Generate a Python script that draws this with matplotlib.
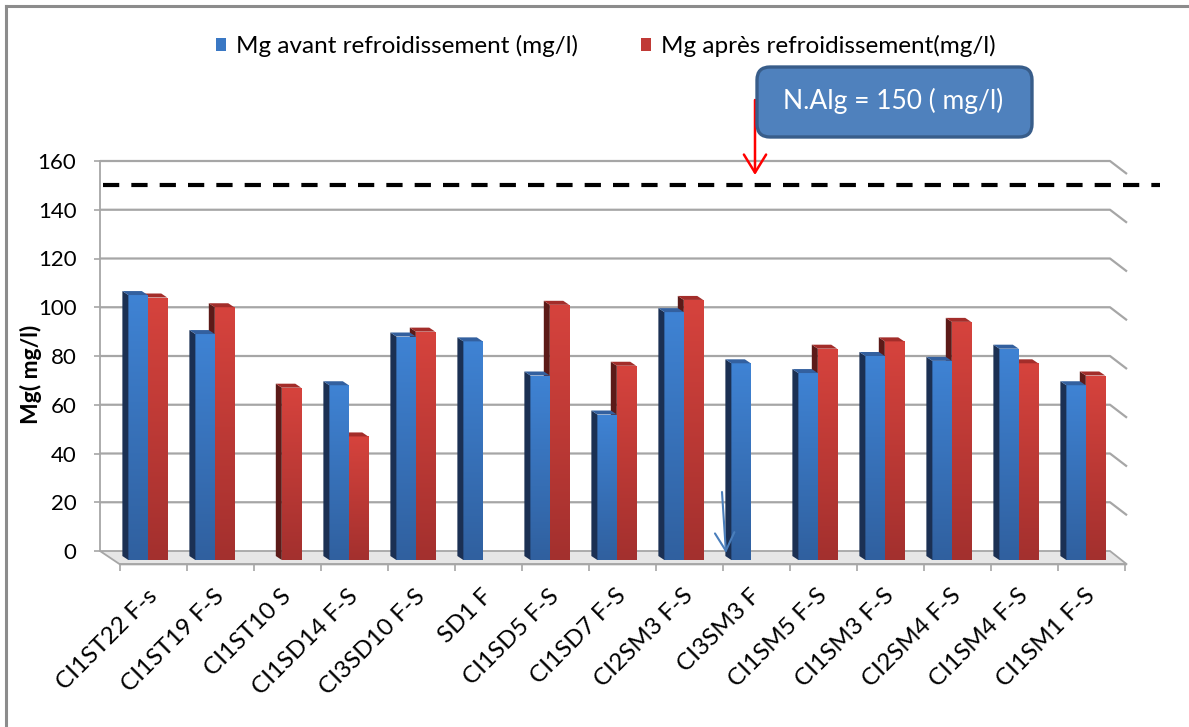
import numpy as np
import matplotlib
matplotlib.use("Agg")
import matplotlib.pyplot as plt
import matplotlib.transforms as mtransforms
from matplotlib.patches import Polygon, Patch, FancyBboxPatch
from matplotlib.lines import Line2D
from matplotlib.colors import LinearSegmentedColormap

# ---- data -------------------------------------------------------------
categories = ["CI1ST22 F-s", "CI1ST19 F-S", "CI1ST10 S", "CI1SD14 F-S", "CI3SD10 F-S",
              "SD1 F", "CI1SD5 F-S", "CI1SD7 F-S", "CI2SM3 F-S", "CI3SM3 F",
              "CI1SM5 F-S", "CI1SM3 F-S", "CI2SM4 F-S", "CI1SM4 F-S", "CI1SM1 F-S"]
mg_avant = [105, 89, np.nan, 68, 88, 86, 72, 56, 98, 77, 73, 80, 78, 83, 68]
mg_apres = [104, 100, 67, 47, 90, np.nan, 101, 76, 103, np.nan, 83, 86, 94, 77, 72]
norme = 150
yticks = [0, 20, 40, 60, 80, 100, 120, 140, 160]
series_labels = ["Mg avant refroidissement (mg/l)", "Mg après refroidissement(mg/l)"]
norme_label = "N.Alg = 150 ( mg/l)"
ylabel = "Mg( mg/l)"

# ---- figure & axes geometry (pixels) ----------------------------------
plt.rcParams['font.family'] = ['Lato', 'DejaVu Sans']
W, H = 1189, 727
fig = plt.figure(figsize=(W / 100, H / 100), dpi=100)
fig.patch.set_facecolor("white")


def fx(px):
    return px / W


def fy(py):
    return 1 - py / H


ax_l, ax_r, ax_t, ax_b = 100, 1130, 150, 580
ax = fig.add_axes([fx(ax_l), fy(ax_b), (ax_r - ax_l) / W, (ax_b - ax_t) / H])
PX_CAT, PX_UNIT = 67.0, 2.4375
X0, Y0 = 120, 551
ax.set_facecolor("none")

# pseudo-3D geometry in data units
wall_left = (100 - X0) / PX_CAT
wall_right = (1110 - X0) / PX_CAT
front_right = (1127 - X0) / PX_CAT
floor_front = -5.5
grid_drop = 13 / PX_UNIT
bar_base = -3.7
bar_w = 0.29
bar_off = 0.125
ddx, ddy = 6 / PX_CAT, 4 / PX_UNIT

grid_col = "#a6a6a6"

# back wall gridlines with their slanted side-wall ends
for k in yticks[1:]:
    ax.plot([wall_left, wall_right, front_right], [k, k, k - grid_drop],
            color=grid_col, lw=1.6, zorder=1, solid_capstyle="butt")

# floor
floor = Polygon([(wall_left, 0), (wall_right, 0), (front_right, floor_front),
                 (0, floor_front)], closed=True, facecolor="#e6e6e6",
                edgecolor=grid_col, lw=1.3, zorder=1.5)
ax.add_patch(floor)

# ---- bars --------------------------------------------------------------
blue_grad = LinearSegmentedColormap.from_list("b", ["#30609f", "#3f83d4"])
red_grad = LinearSegmentedColormap.from_list("r", ["#a3302e", "#d6433d"])
grad = np.linspace(0, 1, 128).reshape(-1, 1)

x = np.arange(len(categories))


def draw_series(values, offset, cmap, side_col, top_col, z):
    lefts = x + offset
    heights = [v - bar_base if np.isfinite(v) else 0 for v in values]
    bars = ax.bar(lefts, heights, bottom=bar_base, width=bar_w, align="edge",
                  color="none", edgecolor="none", zorder=z)
    for left, v, patch in zip(lefts, values, bars):
        if not np.isfinite(v):
            continue
        img = ax.imshow(grad, cmap=cmap, origin="lower", aspect="auto",
                        extent=[left, left + bar_w, bar_base, v], zorder=z)
        img.set_clip_path(patch)
        side = Polygon([(left, bar_base), (left, v), (left - ddx, v + ddy),
                        (left - ddx, bar_base + ddy)], closed=True,
                       facecolor=side_col, edgecolor="none", zorder=z)
        top = Polygon([(left, v), (left + bar_w, v), (left + bar_w - ddx, v + ddy),
                       (left - ddx, v + ddy)], closed=True,
                      facecolor=top_col, edgecolor="none", zorder=z)
        ax.add_patch(side)
        ax.add_patch(top)


draw_series(mg_apres, bar_off + bar_w, red_grad, "#5c1a18", "#a32d2a", 3)
draw_series(mg_avant, bar_off, blue_grad, "#1b3053", "#33609f", 4)

# ---- reference threshold -------------------------------------------------
ax.plot([-0.254, 15.52], [norme, norme], color="black", lw=3,
        linestyle=(0, (3.9, 2.9)), zorder=6, clip_on=False)

# ---- axes styling ------------------------------------------------------
ax.set_xlim((ax_l - X0) / PX_CAT, (ax_r - X0) / PX_CAT)
ax.set_ylim((Y0 - ax_b) / PX_UNIT, (Y0 - ax_t) / PX_UNIT)

for s in ["top", "right"]:
    ax.spines[s].set_visible(False)
ax.spines["left"].set_position(("data", wall_left))
ax.spines["left"].set_bounds(0, 160)
ax.spines["left"].set_color(grid_col)
ax.spines["left"].set_linewidth(1.3)
ax.spines["bottom"].set_position(("data", floor_front))
ax.spines["bottom"].set_bounds(0, len(categories))
ax.spines["bottom"].set_color(grid_col)
ax.spines["bottom"].set_linewidth(1.3)

ax.set_yticks(yticks)
ax.tick_params(axis="y", length=4, width=1.2, color=grid_col, labelsize=16,
               pad=13, labelcolor="black")
ax.set_xticks(x + 0.5)
ax.set_xticklabels(categories, rotation=45, ha="right", rotation_mode="anchor")
ax.set_xticks(np.arange(len(categories) + 1), minor=True)
ax.tick_params(axis="x", which="major", length=0, labelsize=17.5, pad=15)
ax.tick_params(axis="x", which="minor", length=5, width=1.2, color=grid_col)
shift = mtransforms.ScaledTranslation(-7 / 100, 0, fig.dpi_scale_trans)
for lbl in ax.get_xticklabels():
    lbl.set_transform(lbl.get_transform() + shift)

fig.text(fx(31), fy(374), ylabel, rotation=90, ha="center", va="center",
         fontsize=16.5, fontweight="bold")

# ---- legend ------------------------------------------------------------
handles = [Patch(facecolor="#3a78c4", edgecolor="none"),
           Patch(facecolor="#c03a36", edgecolor="none")]
fig.legend(handles, series_labels, loc="center", bbox_to_anchor=(fx(606), fy(46)),
           ncol=2, frameon=False, fontsize=17.5, handlelength=0.42, handleheight=0.42,
           handletextpad=0.4, columnspacing=2.6)

# ---- annotation box and arrows ---------------------------------------------
box = FancyBboxPatch((7.57, (H - 137) / 100), 2.75, 0.70,
                     boxstyle="round,pad=0,rounding_size=0.13",
                     transform=fig.dpi_scale_trans, facecolor="#4f81bd",
                     edgecolor="#385d8a", lw=2.4, zorder=10)
fig.add_artist(box)
fig.text(fx(893), fy(101), norme_label, ha="center", va="center", color="white",
         fontsize=19, zorder=11)

ax.annotate("", xy=((755 - X0) / PX_CAT, (Y0 - 175) / PX_UNIT),
            xytext=((755 - X0) / PX_CAT, (Y0 - 100) / PX_UNIT),
            arrowprops=dict(arrowstyle="->,head_length=13,head_width=8",
                            mutation_scale=1, color="#ff0000", lw=1.8,
                            shrinkA=0, shrinkB=0),
            annotation_clip=False, zorder=12)
ax.annotate("", xy=((726 - X0) / PX_CAT, (Y0 - 553) / PX_UNIT),
            xytext=((722 - X0) / PX_CAT, (Y0 - 492) / PX_UNIT),
            arrowprops=dict(arrowstyle="->,head_length=13,head_width=7",
                            mutation_scale=1, color="#4a7ebb", lw=1.5,
                            shrinkA=0, shrinkB=0),
            annotation_clip=False, zorder=12)

# ---- chart frame -----------------------------------------------------------
fig.add_artist(Line2D([fx(6), 1], [fy(6), fy(6)], color="#8c8c8c", lw=2.2,
                      transform=fig.transFigure))
fig.add_artist(Line2D([fx(6), fx(6)], [fy(6), 0], color="#8c8c8c", lw=2.2,
                      transform=fig.transFigure))

fig.savefig("out.png", dpi=100)
